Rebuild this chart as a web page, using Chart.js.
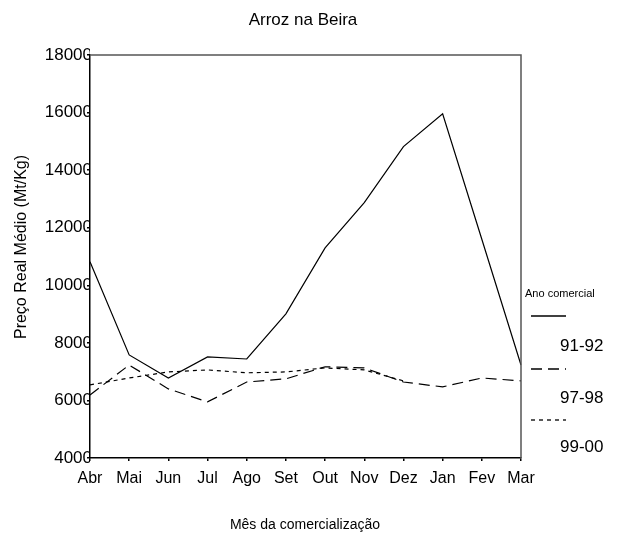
<!DOCTYPE html>
<html>
<head>
<meta charset="utf-8">
<script src="https://cdn.jsdelivr.net/npm/chart.js@4"></script>
<style>
  html, body { margin: 0; padding: 0; background: #fff; }
  #wrap { width: 626px; height: 539px; }
</style>
</head>
<body>
<div id="wrap"><canvas id="c" width="626" height="539"></canvas></div>
<script>
var months = ["Abr", "Mai", "Jun", "Jul", "Ago", "Set", "Out", "Nov", "Dez", "Jan", "Fev", "Mar"];
var seriesNames = ["91-92", "97-98", "99-00"];
var ano9192 = [10820, 7580, 6780, 7510, 7440, 9010, 11300, 12870, 14820, 15960, 11600, 7230];
var ano9798 = [6190, 7230, 6400, 5950, 6640, 6750, 7170, 7130, 6640, 6470, 6780, 6680];
var ano9900 = [6540, 6780, 6990, 7060, 6960, 6990, 7130, 7060, 6680, null, null, null];
var yTicks = [4000, 6000, 8000, 10000, 12000, 14000, 16000, 18000];

var FONT = "Arial, 'Liberation Sans', sans-serif";
var dashes = [[], [11, 6], [4, 4]];

// titles, frame and the odd SPSS style legend
var decor = {
    id: 'decor',
    afterDraw: function (chart) {
        var ctx = chart.ctx;
        var a = chart.chartArea;
        ctx.save();
        ctx.strokeStyle = "#555";
        ctx.lineWidth = 1.5;
        ctx.beginPath();
        ctx.moveTo(a.left, a.top);
        ctx.lineTo(a.right, a.top);
        ctx.lineTo(a.right, a.bottom);
        ctx.stroke();

        ctx.fillStyle = "#000";
        ctx.textAlign = "center";
        ctx.textBaseline = "middle";
        ctx.font = "17px " + FONT;
        ctx.fillText("Arroz na Beira", 303, 20);
        ctx.font = "14px " + FONT;
        ctx.fillText("Mês da comercialização", 305, 525);

        ctx.save();
        ctx.translate(22, 247);
        ctx.rotate(-Math.PI / 2);
        ctx.font = "16px " + FONT;
        ctx.fillText("Preço Real Médio (Mt/Kg)", 0, 0);
        ctx.restore();

        ctx.textAlign = "left";
        ctx.font = "11px " + FONT;
        ctx.fillText("Ano comercial", 525, 294);

        var lineY = [316, 369, 420];
        var textY = [346, 398, 447];
        ctx.strokeStyle = "#000";
        ctx.lineWidth = 1.3;
        chart.data.datasets.forEach(function (ds, i) {
            ctx.setLineDash(ds.borderDash);
            ctx.beginPath();
            ctx.moveTo(531, lineY[i]);
            ctx.lineTo(566, lineY[i]);
            ctx.stroke();
            ctx.setLineDash([]);
            ctx.font = "17px " + FONT;
            ctx.textAlign = "left";
            ctx.fillText(ds.label, 560, textY[i]);
        });
        ctx.restore();
    }
};

var datasets = [ano9192, ano9798, ano9900].map(function (vals, i) {
    return {
        label: seriesNames[i],
        data: vals,
        borderColor: "#000",
        borderWidth: 1.2,
        borderDash: dashes[i],
        pointRadius: 0,
        tension: 0,
        spanGaps: false
    };
});

new Chart(document.getElementById("c").getContext("2d"), {
    type: 'line',
    data: { labels: months, datasets: datasets },
    options: {
        responsive: false,
        animation: false,
        layout: { padding: { left: 0, right: 105, top: 55, bottom: 0 } },
        plugins: { legend: { display: false }, title: { display: false }, tooltip: { enabled: false } },
        scales: {
            x: {
                offset: false,
                border: { display: true, color: "#000", width: 1.5 },
                grid: { drawOnChartArea: false, color: "#000", tickLength: 3, lineWidth: 1.5 },
                ticks: { color: "#000", font: { size: 16, family: FONT }, padding: 8, maxRotation: 0, autoSkip: false },
                afterFit: function (s) { s.height = 81; }
            },
            y: {
                min: 4000,
                max: 18000,
                border: { display: true, color: "#000", width: 1.5 },
                grid: { drawOnChartArea: false, color: "#000", tickLength: 3, lineWidth: 1.5 },
                afterBuildTicks: function (s) { s.ticks = yTicks.map(function (v) { return { value: v }; }); },
                ticks: {
                    color: "#000", font: { size: 17, family: FONT }, padding: -5,
                    callback: function (v) { return String(v); }
                },
                afterFit: function (s) { s.width = 90; }
            }
        }
    },
    plugins: [decor]
});
</script>
</body>
</html>
